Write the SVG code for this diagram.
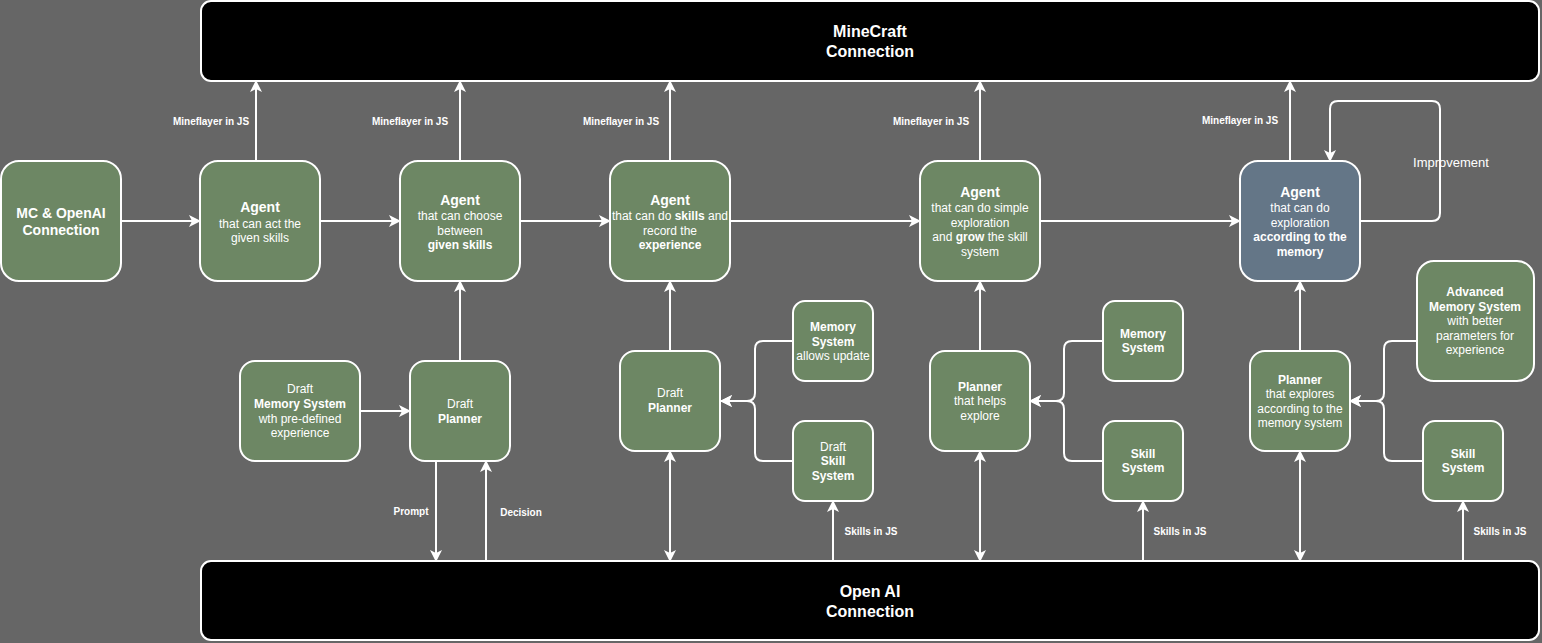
<svg xmlns="http://www.w3.org/2000/svg" width="1542" height="643" viewBox="0 0 1542 643">
<defs>
<marker id="arr" viewBox="0 0 12 12" refX="11" refY="6" markerWidth="12" markerHeight="12" markerUnits="userSpaceOnUse" orient="auto-start-reverse">
<path d="M0,0 L12,6 L0,12 L3,6 Z" fill="#ffffff"/>
</marker>
</defs>
<style>
text{font-family:"Liberation Sans",Arial,sans-serif;fill:#ffffff;text-anchor:middle}
.n{fill:#6d8764;stroke:#ffffff;stroke-width:2}
.b{fill:#647687;stroke:#ffffff;stroke-width:2}
.bar{fill:#000000;stroke:#ffffff;stroke-width:2}
.t{font-size:14px;font-weight:bold}
.s{font-size:12px}
.sb{font-size:12px;font-weight:bold}
.big{font-size:16px;font-weight:bold}
.lbl{font-size:10px;font-weight:bold}
.ea{fill:none;stroke:#ffffff;stroke-width:2;marker-end:url(#arr)}
.eb{fill:none;stroke:#ffffff;stroke-width:2;marker-end:url(#arr);marker-start:url(#arr)}
</style>
<rect x="0" y="0" width="1542" height="643" fill="#666666"/>

<g id="connectors">
<path class="ea" d="M256,161 V81"/>
<path class="ea" d="M460,161 V81"/>
<path class="ea" d="M670,161 V81"/>
<path class="ea" d="M980,161 V81"/>
<path class="ea" d="M1290,161 V81"/>
<path class="ea" d="M121,221 H200"/>
<path class="ea" d="M320,221 H400"/>
<path class="ea" d="M520,221 H610"/>
<path class="ea" d="M730,221 H920"/>
<path class="ea" d="M1040,221 H1240"/>
<path class="ea" d="M1360,221 H1432 Q1440,221 1440,213 V109 Q1440,101 1432,101 H1338 Q1330,101 1330,109 V161"/>
<path class="ea" d="M360,411 H410"/>
<path class="ea" d="M460,361 V281"/>
<path class="ea" d="M436,461 V561"/>
<path class="ea" d="M486,561 V461"/>
<path class="ea" d="M670,351 V281"/>
<path class="eb" d="M670,451 V561"/>
<path class="ea" d="M793,341 H763 Q755,341 755,349 V393 Q755,401 747,401 H721"/>
<path class="ea" d="M793,461 H763 Q755,461 755,453 V409 Q755,401 747,401 H721"/>
<path class="ea" d="M833,561 V501"/>
<path class="ea" d="M980,351 V281"/>
<path class="eb" d="M980,451 V561"/>
<path class="ea" d="M1103,341 H1072 Q1064,341 1064,349 V393 Q1064,401 1056,401 H1030"/>
<path class="ea" d="M1103,461 H1072 Q1064,461 1064,453 V409 Q1064,401 1056,401 H1030"/>
<path class="ea" d="M1143,561 V501"/>
<path class="ea" d="M1300,351 V281"/>
<path class="eb" d="M1300,451 V561"/>
<path class="ea" d="M1417,341 H1392 Q1384,341 1384,349 V393 Q1384,401 1376,401 H1350"/>
<path class="ea" d="M1423,461 H1392 Q1384,461 1384,453 V409 Q1384,401 1376,401 H1350"/>
<path class="ea" d="M1463,561 V501"/>
<text class="lbl" x="211" y="125">Mineflayer in JS</text>
<text class="lbl" x="410" y="125">Mineflayer in JS</text>
<text class="lbl" x="621" y="125">Mineflayer in JS</text>
<text class="lbl" x="931" y="125">Mineflayer in JS</text>
<text class="lbl" x="1240" y="124">Mineflayer in JS</text>
<text x="1451" y="167" style="font-size:13px">Improvement</text>
<text class="lbl" x="411" y="515">Prompt</text>
<text class="lbl" x="521" y="516">Decision</text>
<text class="lbl" x="871" y="535">Skills in JS</text>
<text class="lbl" x="1180" y="535">Skills in JS</text>
<text class="lbl" x="1500" y="535">Skills in JS</text>
</g>

<g id="minecraft">
<rect class="bar" x="201" y="1" width="1338" height="80" rx="10"/>
<text class="big" x="870" y="37">MineCraft</text>
<text class="big" x="870" y="57">Connection</text>
</g>
<g id="openai">
<rect class="bar" x="201" y="561" width="1338" height="79" rx="10"/>
<text class="big" x="870" y="597">Open AI</text>
<text class="big" x="870" y="617">Connection</text>
</g>

<g id="mc-openai">
<rect class="n" x="1" y="161" width="120" height="120" rx="18"/>
<text class="t" x="61" y="218">MC &amp; OpenAI</text>
<text class="t" x="61" y="235">Connection</text>
</g>
<g id="agent1">
<rect class="n" x="200" y="161" width="120" height="120" rx="18"/>
<text class="t" x="260" y="212">Agent</text>
<text class="s" x="260" y="228">that can act the</text>
<text class="s" x="260" y="242">given skills</text>
</g>
<g id="agent2">
<rect class="n" x="400" y="161" width="120" height="120" rx="18"/>
<text class="t" x="460" y="205">Agent</text>
<text class="s" x="460" y="220">that can choose</text>
<text class="s" x="460" y="235">between</text>
<text class="sb" x="460" y="249">given skills</text>
</g>
<g id="agent3">
<rect class="n" x="610" y="161" width="120" height="120" rx="18"/>
<text class="t" x="670" y="205">Agent</text>
<text class="s" x="670" y="220">that can do <tspan font-weight="bold">skills</tspan> and</text>
<text class="s" x="670" y="235">record the</text>
<text class="sb" x="670" y="249">experience</text>
</g>
<g id="agent4">
<rect class="n" x="920" y="161" width="120" height="120" rx="18"/>
<text class="t" x="980" y="197">Agent</text>
<text class="s" x="980" y="212">that can do simple</text>
<text class="s" x="980" y="227">exploration</text>
<text class="s" x="980" y="241">and <tspan font-weight="bold">grow</tspan> the skill</text>
<text class="s" x="980" y="256">system</text>
</g>
<g id="agent5">
<rect class="b" x="1240" y="161" width="120" height="120" rx="18"/>
<text class="t" x="1300" y="197">Agent</text>
<text class="s" x="1300" y="212">that can do</text>
<text class="s" x="1300" y="227">exploration</text>
<text class="sb" x="1300" y="241">according to the</text>
<text class="sb" x="1300" y="256">memory</text>
</g>
<g id="draft-memory">
<rect class="n" x="240" y="361" width="120" height="100" rx="15"/>
<text class="s" x="300" y="393">Draft</text>
<text class="sb" x="300" y="408">Memory System</text>
<text class="s" x="300" y="423">wth pre-defined</text>
<text class="s" x="300" y="437">experience</text>
</g>
<g id="draft-planner1">
<rect class="n" x="410" y="361" width="100" height="100" rx="15"/>
<text class="s" x="460" y="408">Draft</text>
<text class="sb" x="460" y="423">Planner</text>
</g>
<g id="draft-planner2">
<rect class="n" x="620" y="351" width="100" height="100" rx="15"/>
<text class="s" x="670" y="397">Draft</text>
<text class="sb" x="670" y="412">Planner</text>
</g>
<g id="memory-update">
<rect class="n" x="793" y="301" width="80" height="80" rx="12"/>
<text class="sb" x="833" y="331">Memory</text>
<text class="sb" x="833" y="346">System</text>
<text class="s" x="833" y="360">allows update</text>
</g>
<g id="draft-skill">
<rect class="n" x="793" y="421" width="80" height="80" rx="12"/>
<text class="s" x="833" y="451">Draft</text>
<text class="sb" x="833" y="465">Skill</text>
<text class="sb" x="833" y="480">System</text>
</g>
<g id="planner3">
<rect class="n" x="930" y="351" width="100" height="100" rx="15"/>
<text class="sb" x="980" y="391">Planner</text>
<text class="s" x="980" y="405">that helps</text>
<text class="s" x="980" y="420">explore</text>
</g>
<g id="memory3">
<rect class="n" x="1103" y="301" width="80" height="80" rx="12"/>
<text class="sb" x="1143" y="338">Memory</text>
<text class="sb" x="1143" y="352">System</text>
</g>
<g id="skill3">
<rect class="n" x="1103" y="421" width="80" height="80" rx="12"/>
<text class="sb" x="1143" y="458">Skill</text>
<text class="sb" x="1143" y="472">System</text>
</g>
<g id="planner4">
<rect class="n" x="1250" y="351" width="100" height="100" rx="15"/>
<text class="sb" x="1300" y="384">Planner</text>
<text class="s" x="1300" y="398">that explores</text>
<text class="s" x="1300" y="413">according to the</text>
<text class="s" x="1300" y="427">memory system</text>
</g>
<g id="advanced-memory">
<rect class="n" x="1417" y="261" width="117" height="120" rx="17"/>
<text class="sb" x="1475" y="296">Advanced</text>
<text class="sb" x="1475" y="311">Memory System</text>
<text class="s" x="1475" y="325">with better</text>
<text class="s" x="1475" y="340">parameters for</text>
<text class="s" x="1475" y="354">experience</text>
</g>
<g id="skill4">
<rect class="n" x="1423" y="421" width="80" height="80" rx="12"/>
<text class="sb" x="1463" y="458">Skill</text>
<text class="sb" x="1463" y="472">System</text>
</g>
</svg>
